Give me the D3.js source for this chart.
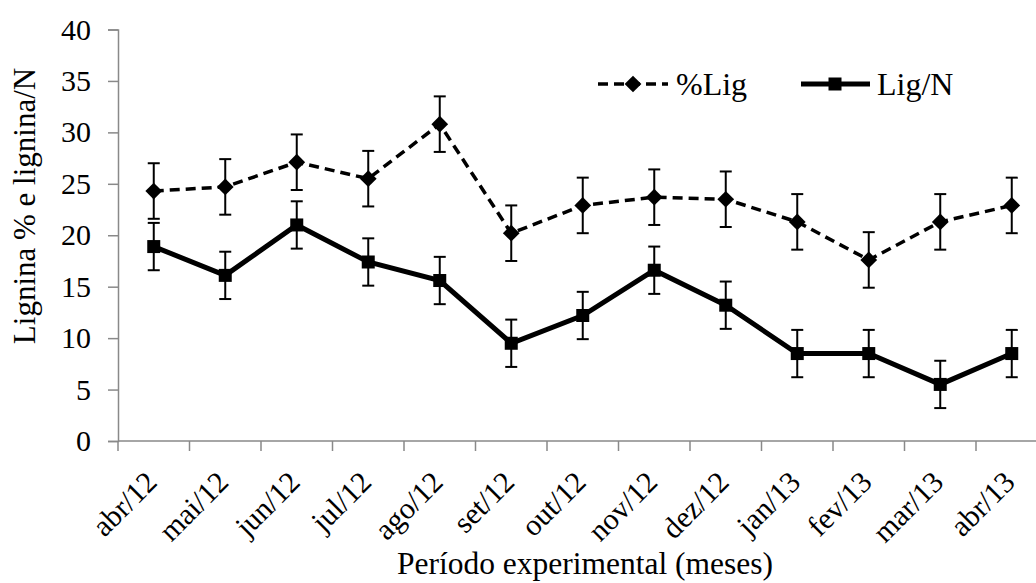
<!DOCTYPE html>
<html>
<head>
<meta charset="utf-8">
<script src="https://cdn.jsdelivr.net/npm/d3@7"></script>
<style>
  body { margin: 0; background: #fff; }
  text { font-family: "Liberation Serif", "Times New Roman", serif; fill: #000; }
</style>
</head>
<body>
<div id="chart"></div>
<script>
// Categories (months)
var months = ["abr/12", "mai/12", "jun/12", "jul/12", "ago/12", "set/12", "out/12",
              "nov/12", "dez/12", "jan/13", "fev/13", "mar/13", "abr/13"];

// %Lig series and its error
var ligPct = [24.3, 24.7, 27.1, 25.5, 30.8, 20.2, 22.9, 23.7, 23.5, 21.3, 17.6, 21.3, 22.9];
var ligPctErr = [2.7, 2.7, 2.7, 2.7, 2.7, 2.7, 2.7, 2.7, 2.7, 2.7, 2.7, 2.7, 2.7];

// Lig/N series and its error
var ligN = [18.9, 16.1, 21.0, 17.4, 15.6, 9.5, 12.2, 16.6, 13.2, 8.5, 8.5, 5.5, 8.5];
var ligNErr = [2.3, 2.3, 2.3, 2.3, 2.3, 2.3, 2.3, 2.3, 2.3, 2.3, 2.3, 2.3, 2.3];

// Y axis ticks
var yTicks = [0, 5, 10, 15, 20, 25, 30, 35, 40];

var width = 1036, height = 583;
var plotLeft = 118, plotTop = 29.5, plotBottom = 441, step = 71.5;

var svg = d3.select("#chart").append("svg")
    .attr("width", width)
    .attr("height", height);

// Scales
var x = d3.scaleBand()
    .domain(months)
    .range([plotLeft, plotLeft + step * months.length])
    .padding(0);

var y = d3.scaleLinear()
    .domain([0, 40])
    .range([plotBottom, plotTop]);

var cx = function(d) { return x(d) + x.bandwidth() / 2; };

//------------------------------
//-------- AXES ----------------
//------------------------------
var axisColor = "#898989";

// Y axis
var yAxis = svg.append("g")
    .attr("transform", "translate(" + plotLeft + ",0)")
    .call(d3.axisLeft(y).tickValues(yTicks).tickSize(10).tickPadding(17));
yAxis.select(".domain").attr("stroke", axisColor).attr("stroke-width", 1.5);
yAxis.selectAll(".tick line").attr("stroke", axisColor).attr("stroke-width", 1.5);
yAxis.selectAll(".tick text")
    .style("font-family", "Liberation Serif, Times New Roman, serif")
    .style("font-size", "30px")
    .attr("fill", "#000");

// X axis line and ticks at category boundaries
var xg = svg.append("g");
xg.append("line")
    .attr("x1", plotLeft).attr("x2", plotLeft + step * months.length)
    .attr("y1", plotBottom).attr("y2", plotBottom)
    .attr("stroke", axisColor).attr("stroke-width", 1.5);

var bounds = months.map(function(m) { return x(m); }).concat([x.range()[1]]);
xg.selectAll(".xtick")
    .data(bounds)
    .enter().append("line")
    .attr("x1", function(d) { return d; })
    .attr("x2", function(d) { return d; })
    .attr("y1", plotBottom)
    .attr("y2", plotBottom + 10)
    .attr("stroke", axisColor).attr("stroke-width", 1.5);

// X tick labels rotated
xg.selectAll(".xlabel")
    .data(months)
    .enter().append("text")
    .attr("text-anchor", "end")
    .attr("transform", function(d) {
        return "translate(" + (cx(d) - 10) + "," + (plotBottom + 28) + ") rotate(-45)";
    })
    .attr("dy", "0.7em")
    .style("font-size", "30px")
    .text(function(d) { return d; });

// Axis titles
svg.append("text")
    .attr("text-anchor", "middle")
    .attr("transform", "translate(35,206) rotate(-90)")
    .style("font-size", "31px")
    .text("Lignina % e lignina/N");

svg.append("text")
    .attr("text-anchor", "middle")
    .attr("x", 585)
    .attr("y", 574)
    .style("font-size", "31.5px")
    .text("Período experimental (meses)");

//------------------------------
//-------- SERIES --------------
//------------------------------
function drawErrors(values, errs) {
    var g = svg.append("g");
    months.forEach(function(m, i) {
        var xc = cx(m), hi = y(values[i] + errs[i]), lo = y(values[i] - errs[i]);
        g.append("line").attr("x1", xc).attr("x2", xc).attr("y1", hi).attr("y2", lo)
            .attr("stroke", "#000").attr("stroke-width", 2);
        g.append("line").attr("x1", xc - 6).attr("x2", xc + 6).attr("y1", hi).attr("y2", hi)
            .attr("stroke", "#000").attr("stroke-width", 2);
        g.append("line").attr("x1", xc - 6).attr("x2", xc + 6).attr("y1", lo).attr("y2", lo)
            .attr("stroke", "#000").attr("stroke-width", 2);
    });
}

var line = d3.line()
    .x(function(d, i) { return cx(months[i]); })
    .y(function(d) { return y(d); });

// %Lig (dashed, diamonds)
drawErrors(ligPct, ligPctErr);
svg.append("path")
    .datum(ligPct)
    .attr("d", line)
    .attr("fill", "none")
    .attr("stroke", "#000")
    .attr("stroke-width", 3.5)
    .attr("stroke-dasharray", "10,6");

var diamond = d3.symbol().type(d3.symbolSquare).size(140);
svg.selectAll(".dia")
    .data(ligPct)
    .enter().append("path")
    .attr("d", diamond)
    .attr("transform", function(d, i) { return "translate(" + cx(months[i]) + "," + y(d) + ") rotate(45)"; })
    .attr("fill", "#000");

// Lig/N (solid, squares)
drawErrors(ligN, ligNErr);
svg.append("path")
    .datum(ligN)
    .attr("d", line)
    .attr("fill", "none")
    .attr("stroke", "#000")
    .attr("stroke-width", 5);

svg.selectAll(".sq")
    .data(ligN)
    .enter().append("rect")
    .attr("x", function(d, i) { return cx(months[i]) - 6.5; })
    .attr("y", function(d) { return y(d) - 6.5; })
    .attr("width", 13)
    .attr("height", 13)
    .attr("fill", "#000");

//------------------------------
//-------- LEGEND --------------
//------------------------------
var legY = 84;
var lg = svg.append("g");
lg.append("line").attr("x1", 598).attr("x2", 668).attr("y1", legY).attr("y2", legY)
    .attr("stroke", "#000").attr("stroke-width", 3.5).attr("stroke-dasharray", "10,6");
lg.append("path").attr("d", diamond)
    .attr("transform", "translate(633," + legY + ") rotate(45)").attr("fill", "#000");
lg.append("text").attr("x", 676).attr("y", legY).attr("dy", "0.35em")
    .style("font-size", "32px").text("%Lig");

lg.append("line").attr("x1", 801).attr("x2", 870).attr("y1", legY).attr("y2", legY)
    .attr("stroke", "#000").attr("stroke-width", 5);
lg.append("rect").attr("x", 835 - 6.5).attr("y", legY - 6.5).attr("width", 13).attr("height", 13)
    .attr("fill", "#000");
lg.append("text").attr("x", 877).attr("y", legY).attr("dy", "0.35em")
    .style("font-size", "32px").text("Lig/N");
</script>
</body>
</html>
